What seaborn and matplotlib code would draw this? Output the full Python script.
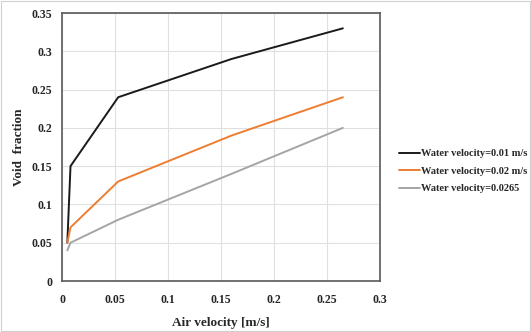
import matplotlib
matplotlib.use("Agg")
import matplotlib.pyplot as plt
import seaborn as sns
import pandas as pd

air_velocity = [0.005, 0.008, 0.053, 0.16, 0.265]
void_001 = [0.05, 0.15, 0.24, 0.29, 0.33]
void_002 = [0.05, 0.07, 0.13, 0.19, 0.24]
void_00265 = [0.04, 0.05, 0.08, 0.14, 0.20]
series_names = ["Water velocity=0.01 m/s", "Water velocity=0.02 m/s", "Water velocity=0.0265"]
colors = ["#1a1a1a", "#ED7D31", "#A5A5A5"]

rows = []
for name, vals in zip(series_names, [void_001, void_002, void_00265]):
    for x, y in zip(air_velocity, vals):
        rows.append({"Air velocity": x, "Void fraction": y, "series": name})
df = pd.DataFrame(rows)

sns.set_style("white")
plt.rcParams["font.family"] = ["Liberation Serif", "DejaVu Serif"]
plt.rcParams["font.weight"] = "bold"

fig = plt.figure(figsize=(5.31, 3.32), dpi=100)
ax = fig.add_axes([0.1168, 0.1536, 0.5988, 0.8072])
sns.lineplot(data=df, x="Air velocity", y="Void fraction", hue="series",
             palette=colors, linewidth=1.4, ax=ax, sort=False)

ax.set_xlim(0, 0.3)
ax.set_ylim(0, 0.35)
ax.set_xticks([0, 0.05, 0.1, 0.15, 0.2, 0.25, 0.3])
ax.set_xticklabels(["0", "0.05", "0.1", "0.15", "0.2", "0.25", "0.3"])
ax.set_yticks([0, 0.05, 0.1, 0.15, 0.2, 0.25, 0.3, 0.35])
ax.set_yticklabels(["0", "0.05", "0.1", "0.15", "0.2", "0.25", "0.3", "0.35"])
ax.tick_params(axis="x", labelsize=8.5, length=0, pad=9)
ax.tick_params(axis="y", labelsize=8.5, length=0, pad=7)
for lbl in ax.get_xticklabels() + ax.get_yticklabels():
    lbl.set_fontweight("bold")
ax.grid(True, color="#e0e0e0", linewidth=0.8)
for s in ax.spines.values():
    s.set_color("#595959")
    s.set_linewidth(1.2)
ax.set_xlabel("Air velocity [m/s]", fontsize=9.5, fontweight="bold", labelpad=8)
ax.set_ylabel("Void  fraction", fontsize=9.5, fontweight="bold", labelpad=5)

leg = ax.legend(loc="center left", bbox_to_anchor=(1.03, 0.41), frameon=False,
                fontsize=7.5, handlelength=2.0, handletextpad=0.1, labelspacing=0.8)
for t in leg.get_texts():
    t.set_fontweight("bold")

fig.patches.append(plt.Rectangle((0.001, 0.002), 0.997, 0.995, transform=fig.transFigure,
                                 fill=False, edgecolor="#d0d0d0", linewidth=0.8))
fig.savefig("out.png", dpi=100)
